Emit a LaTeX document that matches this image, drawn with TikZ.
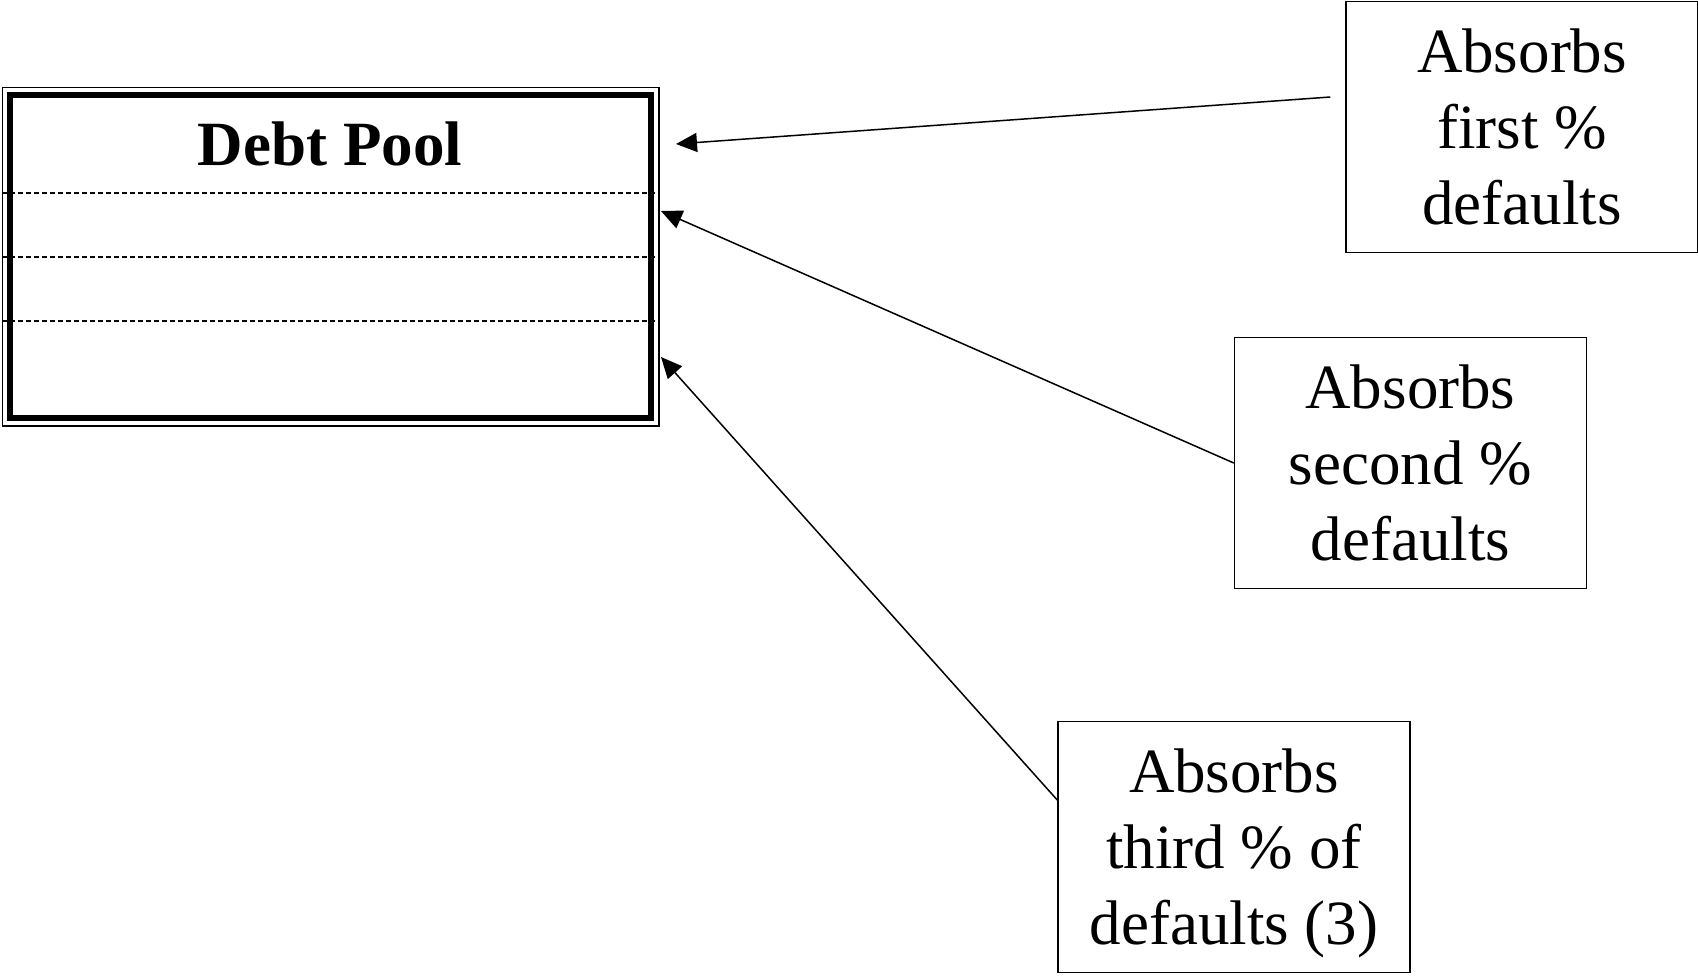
\documentclass[tikz,border=0pt]{standalone}
\usepackage{fontspec}
\setmainfont{Liberation Serif}
\usetikzlibrary{arrows.meta}

\begin{document}
\begin{tikzpicture}[
    x=1pt, y=-1pt,
    pool/.style={rectangle, draw, line width=6.5pt, minimum width=641pt, minimum height=323pt},
    pooltitle/.style={font=\fontsize{63}{76}\selectfont\bfseries},
    tranche/.style={rectangle, draw, line width=1.5pt, minimum width=352pt, minimum height=251pt, inner sep=2pt, text depth=-3pt, align=center, font=\fontsize{63}{76}\selectfont},
    layerline/.style={dashed, line width=1.3pt, dash pattern=on 5pt off 3pt},
    feed/.style={-{Triangle[length=21pt,width=19pt]}, line width=1.5pt}
]
\useasboundingbox (0,0) rectangle (1698,975);
\node[pool] (pool) at (330.5,256.5) {};
\draw[line width=1.5pt] ([shift={(-4.5pt,4.5pt)}]pool.north west) rectangle ([shift={(4.5pt,-4.5pt)}]pool.south east);
\foreach \y in {193,257,321}
    \draw[layerline] (2,\y) -- (656,\y);
\node[pooltitle] (title) at (330,144) {Debt Pool};
\node[tranche] (t1) at (1522,127) {Absorbs\\first \%\\defaults};
\node[tranche] (t2) at (1410.5,463) {Absorbs\\second \%\\defaults};
\node[tranche] (t3) at (1234,847) {Absorbs\\third \% of\\defaults (3)};
\coordinate (tip1) at (676,144);
\coordinate (tip2) at (661,211);
\coordinate (tip3) at (661,357);
\draw[feed] ([xshift=-15pt,yshift=30pt]t1.west) -- (tip1);
\draw[feed] (t2.west) -- (tip2);
\draw[feed] ([yshift=47pt]t3.west) -- (tip3);
\end{tikzpicture}
\end{document}
